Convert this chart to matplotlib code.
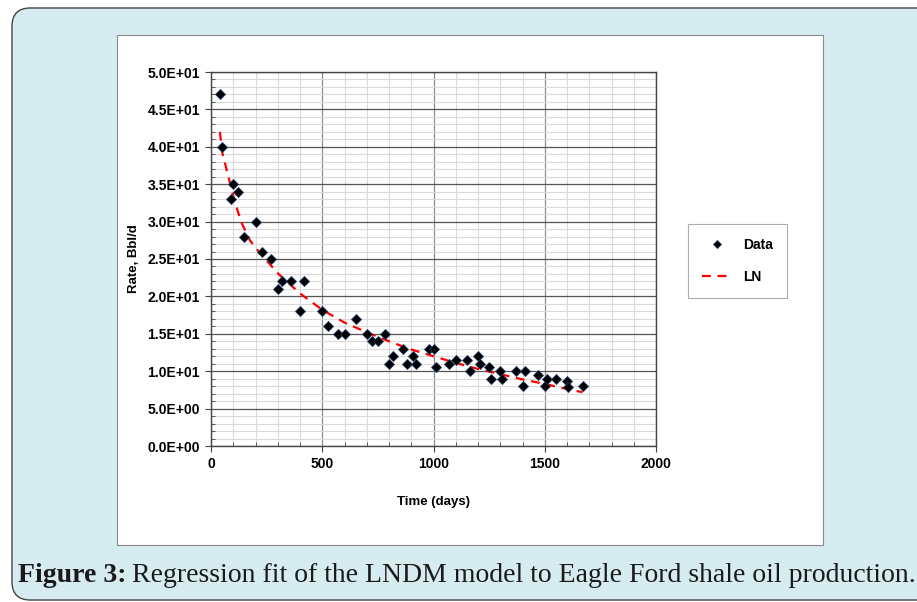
import numpy as np
import matplotlib.pyplot as plt
from matplotlib.patches import FancyBboxPatch, Rectangle
from matplotlib.ticker import MultipleLocator, FuncFormatter

# Data points (Time, days / Rate, Bbl/d)
days = [40, 50, 90, 100, 120, 148, 200, 230, 270, 300, 320, 360, 400, 420,
        500, 525, 570, 600, 650, 700, 725, 750, 780, 800, 820, 865, 880, 910,
        920, 980, 1000, 1010, 1070, 1100, 1150, 1165, 1200, 1210, 1250, 1260,
        1300, 1310, 1370, 1400, 1410, 1470, 1500, 1510, 1550, 1600, 1605, 1670]
rate = [47, 40, 33, 35, 34, 28, 30, 26, 25, 21, 22, 22, 18, 22,
        18, 16, 15, 15, 17, 15, 14, 14, 15, 11, 12, 13, 11, 12,
        11, 13, 13, 10.5, 11, 11.5, 11.5, 10, 12, 11, 10.5, 9,
        10, 9, 10, 8, 10, 9.5, 8, 9, 9, 8.7, 7.9, 8]

# LN model curve
ln_days = [40, 50, 85, 108, 138, 175, 200, 300, 400, 500, 600, 700, 800,
           900, 1000, 1100, 1200, 1300, 1400, 1500, 1600, 1670]
ln_rate = [42, 39.3, 35.2, 32.5, 29.8, 27.5, 26.5, 23.1, 20.4, 18.2, 16.5,
           15.2, 14.0, 12.9, 12.0, 11.1, 10.3, 9.6, 8.9, 8.3, 7.6, 7.2]

W, H = 917, 602
fig = plt.figure(figsize=(W / 100, H / 100), dpi=100)

# background panel
bg = FancyBboxPatch((12 / W, 2 / H), (W + 20 - 12) / W, (H - 10) / H,
                    boxstyle="round,pad=0,rounding_size=0.02",
                    transform=fig.transFigure, facecolor="#d7ecf1",
                    edgecolor="#444444", linewidth=1.0, mutation_aspect=W / H,
                    zorder=-2)
fig.patches.append(bg)
inner = Rectangle((117 / W, 1 - 545 / H), (823 - 117) / W, (545 - 35) / H,
                  transform=fig.transFigure, facecolor="white",
                  edgecolor="#8a8a8a", linewidth=0.8, zorder=-1)
fig.patches.append(inner)

ax = fig.add_axes([211 / W, 1 - 446 / H, (656 - 211) / W, (446 - 72) / H])
ax.set_zorder(2)
ax.set_xlim(0, 2000)
ax.set_ylim(0, 50)

ax.xaxis.set_major_locator(MultipleLocator(500))
ax.xaxis.set_minor_locator(MultipleLocator(100))
ax.yaxis.set_major_locator(MultipleLocator(5))
ax.yaxis.set_minor_locator(MultipleLocator(1))
ax.grid(which="minor", color="#dadada", linewidth=0.8)
ax.grid(which="major", axis="x", color="#8c8c8c", linewidth=0.9)
ax.grid(which="major", axis="y", color="#555555", linewidth=0.9)
ax.set_axisbelow(True)

lab = dict(family="Liberation Sans", weight="bold", size=9.5)
ax.yaxis.set_major_formatter(FuncFormatter(lambda v, p: "%.1E" % v))
ax.tick_params(which="major", direction="out", length=4, color="#444444",
               labelsize=10, pad=4)
ax.tick_params(which="minor", direction="in", length=3, color="#444444")
for spine in ax.spines.values():
    spine.set_color("#444444")
    spine.set_linewidth(1.0)

ax.plot(days, rate, linestyle="none", marker="D", markersize=5.5,
        markerfacecolor="black", markeredgecolor="#1f3b66",
        markeredgewidth=0.6, label="Data", zorder=4)
ax.plot(ln_days, ln_rate, color="#ff0000", linestyle=(0, (4, 3)),
        linewidth=1.6, label="LN", zorder=3)

ax.set_xlabel("Time (days)", labelpad=18, **lab)
ax.set_ylabel("Rate, Bbl/d", labelpad=5, **lab)
for t in ax.get_xticklabels() + ax.get_yticklabels():
    t.set_family("Liberation Sans")
    t.set_weight("bold")

leg = ax.legend(loc="center left", bbox_to_anchor=(688 / W, 1 - 261 / H),
                bbox_transform=fig.transFigure, frameon=True, fancybox=False,
                prop=dict(family="Liberation Sans", weight="bold", size=10),
                handlelength=2.2, borderpad=1.0, labelspacing=1.3,
                handletextpad=0.8, borderaxespad=0)
leg.get_frame().set_edgecolor("#999999")
leg.get_frame().set_linewidth(0.8)
leg.legend_handles[0].set_markersize(4)

# caption
r = fig.canvas.get_renderer()
t1 = fig.text(18 / W, 1 - 575 / H, "Figure 3:", family="Liberation Serif",
              weight="bold", size=20, va="center", color="#1a1a1a")
bb = t1.get_window_extent(renderer=r)
fig.text((bb.x1 + 5) / W, 1 - 575 / H,
         "Regression fit of the LNDM model to Eagle Ford shale oil production.",
         family="Liberation Serif", size=20, va="center", color="#1a1a1a")

fig.savefig("out.png", dpi=100)
